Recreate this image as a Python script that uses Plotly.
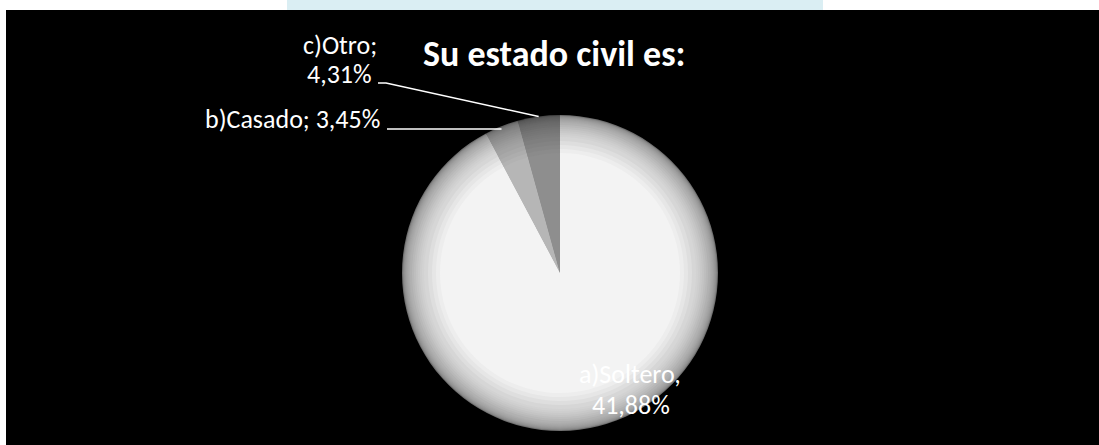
import math
import plotly.graph_objects as go

# ---- data ----
categories = ["a)Soltero", "b)Casado", "c)Otro"]
slice_values = [92.24, 3.45, 4.31]          # share of the pie
soltero_label = ["a)Soltero,", "41,88%"]
casado_label = ["b)Casado; 3,45%"]
otro_label = ["c)Otro;", "4,31%"]
title_text = "Su estado civil es:"

# ---- layout geometry (pixels) ----
W, H = 1099, 445
CX, CY, R = 560, 273, 158
FONT = "Carlito, Lato, 'Open Sans', sans-serif"
LABEL_SIZE = 26

# ---- radial shading (styling only) ----
edge_cols = [(0x70, 0x70, 0x70), (0x5e, 0x5e, 0x5e), (0x48, 0x48, 0x48)]
inner_cols = [(0xf3, 0xf3, 0xf3), (0xb6, 0xb6, 0xb6), (0x8e, 0x8e, 0x8e)]
radii = list(range(158, 150, -1)) + list(range(150, 136, -2)) + list(range(136, 116, -4))

def mix(c0, c1, t):
    return "#%02x%02x%02x" % tuple(int(round(a + (b - a) * t)) for a, b in zip(c0, c1))

fig = go.Figure()
for r in radii:
    t = min(1.0, ((R - r) / (R - radii[-1]))) ** 0.45
    cols = [mix(e, c, t) for e, c in zip(edge_cols, inner_cols)]
    fig.add_trace(go.Pie(
        labels=categories, values=slice_values, sort=False,
        direction="clockwise", rotation=0,
        marker=dict(colors=cols, line=dict(width=0)),
        textinfo="none", hoverinfo="label+percent", showlegend=False,
        domain=dict(x=[(CX - r) / W, (CX + r) / W],
                    y=[(H - CY - r) / H, (H - CY + r) / H]),
    ))

def px(x, y):
    return x / W, 1 - y / H

# background: white page, light blue band, black panel
shapes = [
    dict(type="rect", xref="paper", yref="paper", x0=287 / W, x1=823 / W,
         y0=1 - 10 / H, y1=1, fillcolor="#daeef3", line=dict(width=0), layer="below"),
    dict(type="rect", xref="paper", yref="paper", x0=6 / W, x1=1,
         y0=0, y1=1 - 10 / H, fillcolor="#000000", line=dict(width=0), layer="below"),
]

# leader-line end points computed from the slice values
total = sum(slice_values)
def edge_point(idx):
    start = sum(slice_values[:idx]) / total * 360.0
    mid = start + slice_values[idx] / total * 360.0 / 2.0
    a = math.radians(mid)  # clockwise from 12 o'clock
    return CX + R * math.sin(a), CY - R * math.cos(a)

# Otro leader
ox, oy = edge_point(2)
x0, y0 = px(378, 83)
x1, y1 = px(386, 83)
x2, y2 = px(ox, oy)
shapes.append(dict(type="path", xref="paper", yref="paper",
                   path=f"M {x0} {y0} L {x1} {y1} L {x2} {y2}",
                   line=dict(color="white", width=1.5)))
# Casado leader
bx, by = edge_point(1)
x0, y0 = px(387, 129)
x2, _ = px(bx, 129)
shapes.append(dict(type="line", xref="paper", yref="paper",
                   x0=x0, y0=y0, x1=x2, y1=y0,
                   line=dict(color="white", width=1.5)))

def text_ann(txt, x, y, xanchor, size=LABEL_SIZE, bold=False):
    return dict(text=("<b>%s</b>" % txt) if bold else txt,
                x=x / W, y=1 - y / H, xref="paper", yref="paper",
                showarrow=False, xanchor=xanchor, yanchor="middle",
                font=dict(family=FONT, size=size, color="white"))

annotations = [
    text_ann(title_text, 554, 54, "center", size=36, bold=True),
    text_ann(otro_label[0], 379, 45, "right"),
    text_ann(otro_label[1], 374, 74, "right"),
    text_ann(casado_label[0], 382, 119, "right"),
    text_ann(soltero_label[0], 630, 374, "center"),
    text_ann(soltero_label[1], 631, 405, "center"),
]

fig.update_layout(
    width=W, height=H,
    margin=dict(l=0, r=0, t=0, b=0),
    paper_bgcolor="white", plot_bgcolor="white",
    shapes=shapes, annotations=annotations,
)

fig.write_html("out.html", config={"displayModeBar": False},
               post_script="document.body.style.margin='0';")
